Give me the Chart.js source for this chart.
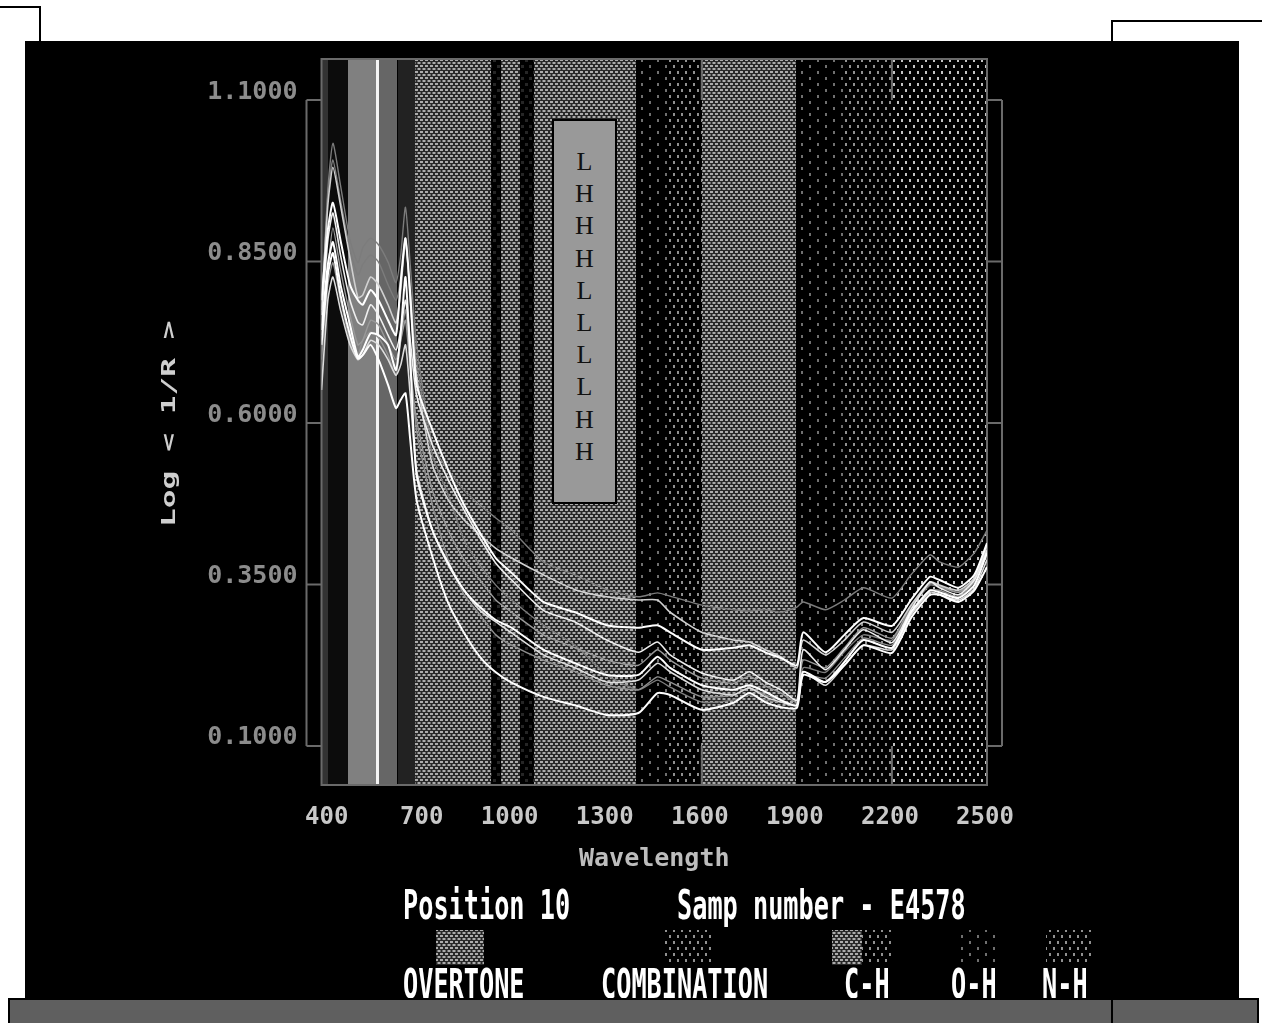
<!DOCTYPE html>
<html>
<head>
<meta charset="utf-8">
<title>Log (1/R) spectra</title>
<script src="https://cdn.jsdelivr.net/npm/chart.js@4"></script>
<style>
  html, body { margin: 0; padding: 0; background: #fff; }
  body { position: relative; width: 1262px; height: 1023px; overflow: hidden; }
  .page { position: absolute; }
  #screen { left: 25px; top: 41px; width: 1214px; height: 957px; background: #000; }
  #chartCanvas { position: absolute; left: 25px; top: 41px; filter: blur(0.6px); }
  #bar { left: 8px; top: 998px; width: 1247px; height: 25px; background: #5f5f5f;
         border: 2px solid #000; border-bottom: 0; box-sizing: content-box; }
  #scoreBox { left: 552px; top: 119px; width: 61px; height: 381px; background: #999;
              border: 2px solid #000; text-align: center; padding-top: 0;
              font: 26px "Liberation Serif", serif; color: #111; }
  #scoreBox div { height: 32.2px; line-height: 32.2px; position: relative; top: 25px; }
</style>
</head>
<body>
<div class="page" id="screen"></div>
<canvas id="chartCanvas" width="1214" height="957"></canvas>
<div class="page" id="scoreBox"></div>
<div class="page" id="bar"></div>
<div class="page" style="left:0;top:6px;width:41px;height:2px;background:#000"></div>
<div class="page" style="left:39px;top:6px;width:2px;height:35px;background:#000"></div>
<div class="page" style="left:1112px;top:20px;width:150px;height:2px;background:#000"></div>
<div class="page" style="left:1111px;top:20px;width:2px;height:21px;background:#000"></div>
<div class="page" style="left:1111px;top:998px;width:2px;height:25px;background:#000"></div>
<script>
// Wavelength grid the curves were read on
const wavelengths = [400,420,436,460,490,515,530,555,580,610,635,650,665,680,700,750,800,850,900,950,1000,1100,1200,1300,1400,1460,1500,1600,1700,1750,1800,1850,1900,1920,1990,2050,2110,2200,2260,2320,2350,2410,2460,2500];

const curveA = [.759,.961,1.033,.968,.883,.848,.871,.886,.876,.849,.817,.860,.934,.845,.721,.566,.527,.496,.473,.453,.434,.385,.365,.342,.331,.337,.332,.318,.311,.309,.311,.307,.315,.323,.311,.326,.345,.329,.365,.396,.385,.377,.399,.434];
const curveB = [.775,.937,.996,.937,.855,.794,.798,.826,.814,.783,.755,.806,.886,.790,.674,.535,.481,.450,.427,.406,.391,.365,.342,.331,.326,.326,.307,.276,.264,.261,.249,.238,.221,.264,.241,.264,.292,.276,.318,.354,.349,.341,.360,.410];
const curveC = [.790,.899,.941,.883,.814,.790,.783,.806,.790,.759,.736,.820,.886,.800,.659,.589,.527,.473,.430,.391,.368,.323,.307,.287,.283,.287,.276,.249,.252,.256,.245,.236,.225,.276,.245,.272,.298,.286,.326,.362,.357,.345,.365,.414];
const curveD = [.767,.883,.925,.860,.790,.756,.752,.783,.767,.736,.713,.744,.790,.728,.643,.566,.512,.465,.422,.383,.357,.310,.292,.264,.245,.261,.241,.213,.202,.215,.199,.187,.171,.249,.218,.249,.280,.260,.311,.354,.345,.334,.357,.403];
const curveE = [.744,.845,.880,.814,.752,.702,.713,.739,.736,.721,.682,.740,.826,.700,.520,.434,.383,.341,.315,.295,.283,.249,.228,.210,.210,.238,.221,.194,.187,.194,.184,.171,.163,.215,.199,.230,.264,.252,.307,.341,.338,.329,.349,.399];
const curveF = [.721,.829,.863,.798,.736,.700,.705,.721,.698,.659,.623,.636,.646,.574,.481,.393,.321,.275,.238,.214,.198,.176,.163,.148,.151,.182,.179,.156,.167,.182,.168,.160,.159,.210,.199,.225,.256,.244,.298,.334,.334,.323,.341,.377];
const curveG = [.698,.814,.848,.790,.728,.705,.728,.741,.732,.705,.674,.728,.775,.698,.589,.473,.388,.334,.303,.272,.256,.233,.215,.194,.187,.207,.199,.176,.179,.190,.179,.171,.163,.210,.205,.236,.267,.256,.307,.341,.341,.331,.354,.403];
const curveH = [.651,.790,.826,.775,.721,.698,.705,.728,.721,.698,.674,.690,.721,.643,.527,.434,.380,.341,.310,.292,.275,.241,.221,.199,.202,.228,.215,.187,.179,.190,.176,.168,.163,.215,.194,.225,.256,.249,.303,.338,.335,.326,.344,.388];
const curveI = [.767,.953,1.007,.945,.868,.829,.845,.860,.849,.814,.790,.821,.875,.806,.697,.550,.489,.419,.380,.349,.326,.287,.256,.210,.187,.202,.191,.168,.171,.179,.171,.168,.166,.221,.214,.246,.272,.264,.314,.349,.346,.338,.360,.411];
const curveJ = [.736,.837,.902,.837,.767,.721,.728,.759,.752,.721,.698,.728,.759,.682,.605,.496,.434,.388,.357,.326,.307,.272,.252,.233,.225,.249,.233,.205,.197,.208,.193,.182,.168,.233,.221,.252,.283,.267,.317,.351,.348,.338,.357,.406];

const xTicks = [400,700,1000,1300,1600,1900,2200,2500];
const xTickMarks = [1600,2200];  // the other marks are hidden by the bands
const yTicks = [0.1,0.35,0.6,0.85,1.1];
const scoreLetters = ['L','H','H','H','L','L','L','L','H','H'];

// Wavelength bands behind the curves: edges and what fills each one
const bandEdges = [400,420,485,572,582,640,695,935,965,1025,1070,1392,1490,1602,1900,2050,2200,2500];
const bandKinds = ['s33','s0c','s80','sff','s66','s22','checker','faint','checker','faint','checker','sparse','medium','checker','sparse','medium','dense'];

// Small tiles, drawn as rectangles [x, y, w, h]
function makeTile(w, h, bg, rects, color) {
  const c = document.createElement('canvas');
  c.width = w; c.height = h;
  const g = c.getContext('2d');
  g.fillStyle = bg; g.fillRect(0, 0, w, h);
  g.fillStyle = color;
  rects.forEach(d => g.fillRect(d[0], d[1], d[2], d[3]));
  return c;
}
const tiles = {
  checker: makeTile(5, 6, '#282828', [[0,0,3,2],[2.5,3,2.5,2],[0,3,0.5,2]], '#acacac'),
  faint: makeTile(8, 12, '#000', [[0,0,3,3],[4,6,3,3]], '#262626'),
  sparse: makeTile(16, 12, '#000', [[0,0,2,3],[8,6,2,3]], '#707070'),
  medium: makeTile(8, 12, '#000', [[0,0,2,3],[4,6,2,3]], '#909090'),
  dense: makeTile(8, 12, '#000', [[0,0,2,3],[4,6,2,3]], '#c4c4c4')
};
const solids = { s33: '#333', s0c: '#0c0c0c', s80: '#808080', sff: '#f4f4f4', s66: '#666', s22: '#222' };

function fillPatch(chart, kind, x0, y0, x1, y1) {
  const ctx = chart.ctx;
  ctx.save();
  ctx.fillStyle = solids[kind] || ctx.createPattern(tiles[kind], 'repeat');
  ctx.fillRect(Math.round(x0), Math.round(y0), Math.round(x1 - x0), Math.round(y1 - y0));
  ctx.restore();
}

function stretchedText(ctx, text, x, y, sx, sy, color, rotate) {
  ctx.save();
  ctx.translate(x, y);
  if (rotate) ctx.rotate(rotate);
  ctx.scale(sx, sy);
  ctx.font = 'bold 20px "DejaVu Sans Mono"';
  ctx.fillStyle = color;
  ctx.textAlign = 'left';
  ctx.textBaseline = 'alphabetic';
  ctx.fillText(text, 0, 0);
  ctx.restore();
}

const bandsPlugin = {
  id: 'bands',
  beforeDatasetsDraw(chart) {
    const { ctx, chartArea: a, scales: { x, y } } = chart;
    bandKinds.forEach((kind, i) => {
      fillPatch(chart, kind, x.getPixelForValue(bandEdges[i]), a.top, x.getPixelForValue(bandEdges[i + 1]), a.bottom);
    });
    // frame, tick marks and the brackets left and right
    ctx.save();
    ctx.strokeStyle = '#6a6a6a';
    ctx.lineWidth = 2;
    ctx.strokeRect(a.left, a.top, a.right - a.left, a.bottom - a.top);
    const yTop = y.getPixelForValue(yTicks[yTicks.length - 1]), yBot = y.getPixelForValue(yTicks[0]);
    ctx.beginPath();
    xTickMarks.forEach(v => {
      const px = x.getPixelForValue(v);
      ctx.moveTo(px, a.top); ctx.lineTo(px, yTop);
      ctx.moveTo(px, yBot); ctx.lineTo(px, a.bottom);
    });
    yTicks.forEach(v => {
      const py = y.getPixelForValue(v);
      ctx.moveTo(a.left - 15, py); ctx.lineTo(a.left, py);
      ctx.moveTo(a.right, py); ctx.lineTo(a.right + 15, py);
    });
    ctx.moveTo(a.left - 15, yTop); ctx.lineTo(a.left - 15, yBot);
    ctx.moveTo(a.right + 15, yTop); ctx.lineTo(a.right + 15, yBot);
    ctx.stroke();
    ctx.restore();
  },
  afterDraw(chart) {
    const ctx = chart.ctx;
    // texts use page coordinates minus the canvas offset
    const ox = 25, oy = 41;
    stretchedText(ctx, 'Log < 1/R >', 175 - ox, 527 - oy, 1.56, 1, '#cfcfcf', -Math.PI / 2);
    stretchedText(ctx, 'Position 10', 403 - ox, 919 - oy, 1.262, 2.05, '#fff');
    stretchedText(ctx, 'Samp number - E4578', 677 - ox, 919 - oy, 1.262, 2.05, '#fff');
    stretchedText(ctx, 'OVERTONE', 403 - ox, 998 - oy, 1.262, 2.05, '#fff');
    stretchedText(ctx, 'COMBINATION', 601 - ox, 998 - oy, 1.262, 2.05, '#fff');
    stretchedText(ctx, 'C-H', 844 - ox, 998 - oy, 1.262, 2.05, '#fff');
    stretchedText(ctx, 'O-H', 951 - ox, 998 - oy, 1.262, 2.05, '#fff');
    stretchedText(ctx, 'N-H', 1042 - ox, 998 - oy, 1.262, 2.05, '#fff');
    // legend swatches
    fillPatch(chart, 'checker', 436 - ox, 930 - oy, 484 - ox, 965 - oy);
    fillPatch(chart, 'medium', 665 - ox, 930 - oy, 711 - ox, 965 - oy);
    fillPatch(chart, 'checker', 832 - ox, 930 - oy, 862 - ox, 965 - oy);
    fillPatch(chart, 'medium', 862 - ox, 930 - oy, 893 - ox, 965 - oy);
    fillPatch(chart, 'sparse', 958 - ox, 930 - oy, 1000 - ox, 965 - oy);
    fillPatch(chart, 'medium', 1046 - ox, 930 - oy, 1091 - ox, 965 - oy);
  }
};

function toPoints(values) {
  return wavelengths.map((w, i) => ({ x: w, y: values[i] }));
}

function curve(values, color, width) {
  return { data: toPoints(values), borderColor: color, borderWidth: width, pointRadius: 0, tension: 0.2, fill: false };
}

document.getElementById('scoreBox').innerHTML = scoreLetters.map(l => '<div>' + l + '</div>').join('');

new Chart(document.getElementById('chartCanvas').getContext('2d'), {
  type: 'line',
  data: {
    datasets: [
      curve(curveF, '#ffffff', 2),
      curve(curveE, '#ffffff', 2),
      curve(curveC, '#ffffff', 2),
      curve(curveD, '#eeeeee', 1.6),
      curve(curveH, '#dddddd', 1.6),
      curve(curveB, '#d0d0d0', 1.6),
      curve(curveJ, '#999999', 1.4),
      curve(curveG, '#909090', 1.4),
      curve(curveI, '#7c7c7c', 1.4),
      curve(curveA, '#7c7c7c', 1.4)
    ]
  },
  options: {
    responsive: false,
    animation: false,
    devicePixelRatio: 1,
    layout: { padding: { left: 120, right: 252, top: 18, bottom: 124 } },
    plugins: { legend: { display: false }, tooltip: { enabled: false } },
    scales: {
      x: {
        type: 'linear',
        min: 400,
        max: 2500,
        afterBuildTicks: axis => { axis.ticks = xTicks.map(v => ({ value: v })); },
        afterFit: axis => { axis.height = 89; axis.paddingLeft = 0; axis.paddingRight = 0; },
        grid: { display: false, drawTicks: false },
        border: { display: false },
        ticks: {
          autoSkip: false,
          maxRotation: 0,
          padding: 18,
          labelOffset: -2,
          color: '#c8c8c8',
          font: { family: 'DejaVu Sans Mono', size: 24, weight: 'bold' },
          // three digit labels sit further right in the original
          callback: v => (v < 1000 ? ' ' : '') + v
        },
        title: { display: true, text: 'Wavelength', color: '#bdbdbd', padding: 0, font: { family: 'DejaVu Sans Mono', size: 25, weight: 'bold' } }
      },
      y: {
        min: 0.0396,
        max: 1.1635,
        afterBuildTicks: axis => { axis.ticks = yTicks.map(v => ({ value: v })); },
        afterFit: axis => { axis.width = 176.5; axis.paddingTop = 0; axis.paddingBottom = 0; },
        grid: { display: false, drawTicks: false },
        border: { display: false },
        ticks: {
          autoSkip: false,
          padding: 24,
          labelOffset: -8,
          color: '#8c8c8c',
          font: { family: 'DejaVu Sans Mono', size: 25, weight: 'bold' },
          callback: v => v.toFixed(4)
        }
      }
    }
  },
  plugins: [bandsPlugin]
});
</script>
</body>
</html>
